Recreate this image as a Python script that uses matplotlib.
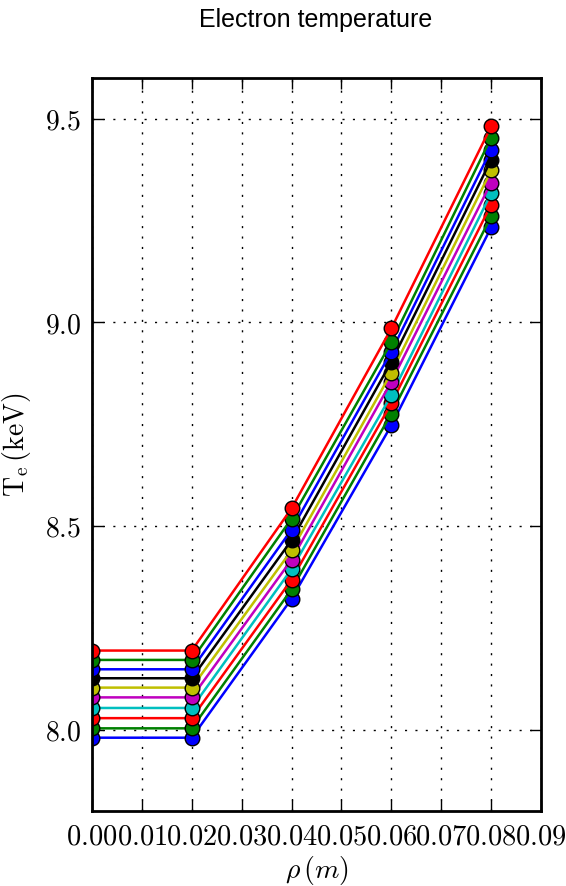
import matplotlib
matplotlib.use("Agg")
import matplotlib.pyplot as plt

plt.rcParams['mathtext.fontset'] = 'cm'

rho = [0.00, 0.02, 0.04, 0.06, 0.08]

te_series = [
    [7.980, 7.980, 8.321, 8.747, 9.233],
    [8.003, 8.003, 8.344, 8.776, 9.260],
    [8.028, 8.028, 8.368, 8.801, 9.289],
    [8.053, 8.053, 8.394, 8.821, 9.317],
    [8.079, 8.079, 8.417, 8.854, 9.343],
    [8.103, 8.103, 8.440, 8.876, 9.373],
    [8.126, 8.126, 8.465, 8.903, 9.399],
    [8.148, 8.148, 8.491, 8.928, 9.424],
    [8.171, 8.171, 8.518, 8.951, 9.453],
    [8.194, 8.194, 8.543, 8.985, 9.481],
]
colors = ['b', 'g', 'r', 'c', 'm', 'y', 'k', 'b', 'g', 'r']

xticks = [0.00, 0.01, 0.02, 0.03, 0.04, 0.05, 0.06, 0.07, 0.08, 0.09]
xticklabels = ['0.00', '0.01', '0.02', '0.03', '0.04', '0.05', '0.06', '0.07', '0.08', '0.09']
yticks = [8.0, 8.5, 9.0, 9.5]
yticklabels = ['8.0', '8.5', '9.0', '9.5']

fig = plt.figure(figsize=(5.66, 8.86), dpi=100)
ax = fig.add_axes([92/566, 1 - 811/886, (541-92)/566, (811-78)/886])

for vals, c in zip(te_series, colors):
    ax.plot(rho, vals, color=c, lw=1.8, marker='o', markersize=10.5,
            markerfacecolor=c, markeredgecolor='k', markeredgewidth=1.0)

ax.set_xlim(0.0, 0.09)
ax.set_ylim(7.8, 9.6)
ax.set_xticks(xticks)
ax.set_xticklabels(['$' + s + '$' for s in xticklabels], fontsize=20.5)
ax.set_yticks(yticks)
ax.set_yticklabels(['$' + s + '$' for s in yticklabels], fontsize=20)

ax.grid(True, color='k', linestyle=(0, (1.5, 6)), linewidth=1.0)
ax.tick_params(direction='in', length=8, width=1.0, top=True, right=True, pad=8)
for sp in ax.spines.values():
    sp.set_linewidth(2.0)

ax.set_xlabel(r'$\rho\,(m)$', fontsize=20, labelpad=3)
ax.set_ylabel(r'$\mathrm{T_e}\,(\mathrm{keV})$', fontsize=20, labelpad=8)

fig.text(316/566, 1 - 27/886, 'Electron temperature', ha='center', va='baseline',
         fontsize=18, family='Liberation Sans')

fig.savefig('out.png', dpi=100)
